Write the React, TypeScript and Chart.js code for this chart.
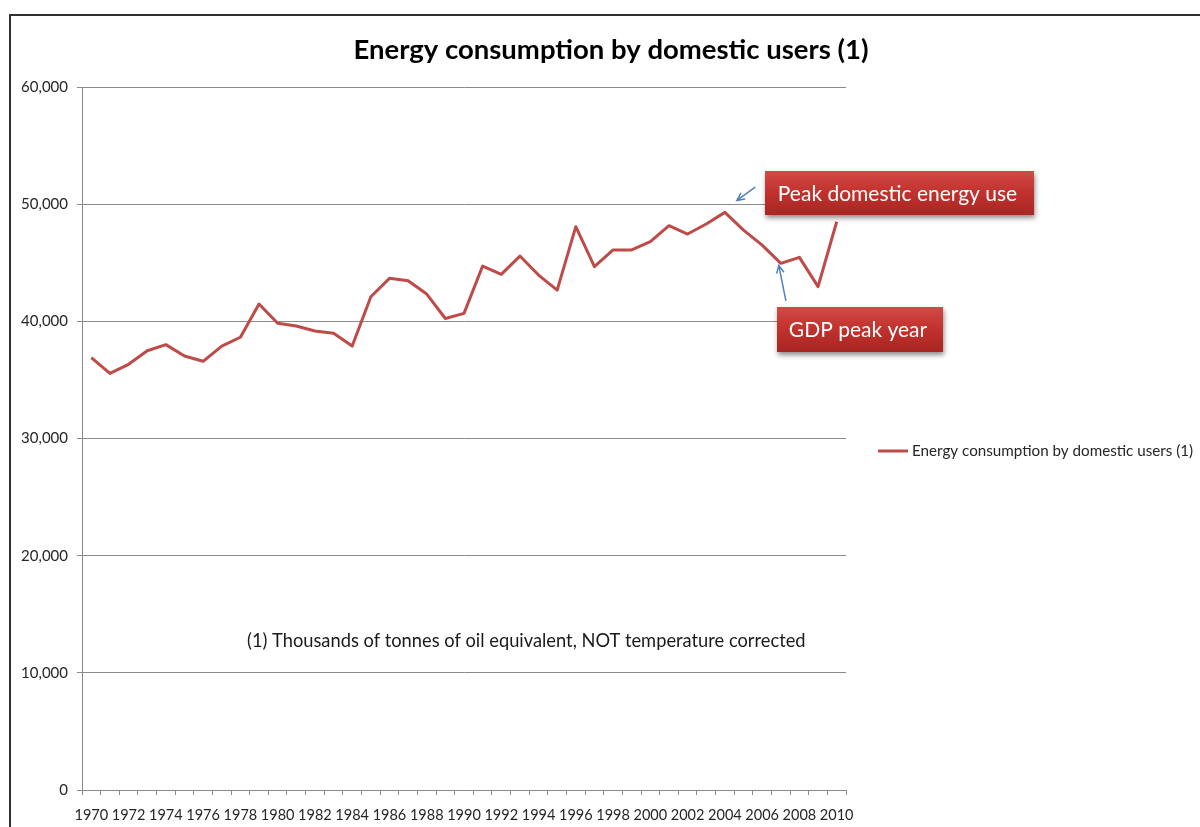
import React, { useEffect, useRef } from "react";
import { Chart, registerables } from "chart.js";

Chart.register(...registerables);

// Years on the category axis
const years: string[] = [
  "1970", "1971", "1972", "1973", "1974", "1975", "1976", "1977", "1978", "1979",
  "1980", "1981", "1982", "1983", "1984", "1985", "1986", "1987", "1988", "1989",
  "1990", "1991", "1992", "1993", "1994", "1995", "1996", "1997", "1998", "1999",
  "2000", "2001", "2002", "2003", "2004", "2005", "2006", "2007", "2008", "2009",
  "2010",
];

// Thousands of tonnes of oil equivalent
const domesticUse: number[] = [
  36900, 35560, 36330, 37490, 38010, 37040, 36590, 37890, 38640, 41480,
  39830, 39600, 39170, 38980, 37890, 42100, 43670, 43470, 42330, 40240,
  40680, 44720, 44010, 45570, 43950, 42670, 48080, 44660, 46090, 46090,
  46800, 48160, 47450, 48310, 49300, 47790, 46510, 44950, 45460, 42960,
  48500,
];

const seriesName = "Energy consumption by domestic users (1)";
const chartTitle = "Energy consumption by domestic users (1)";
const footnote = "(1) Thousands of tonnes of oil equivalent, NOT temperature corrected";
const callouts: string[] = ["Peak domestic energy use", "GDP peak year"];

const yTicks = { min: 0, max: 60000, step: 10000 };

const FONT = "Lato, 'Open Sans', sans-serif";
const LINE_RED = "#be4b48";
const GRID = "#8a8a8a";
const ARROW_BLUE = "#4f81bd";

function drawArrow(ctx: CanvasRenderingContext2D, x0: number, y0: number, x1: number, y1: number) {
  const ang = Math.atan2(y1 - y0, x1 - x0);
  const head = 8;
  ctx.save();
  ctx.strokeStyle = ARROW_BLUE;
  ctx.lineWidth = 1.5;
  ctx.lineCap = "round";
  ctx.beginPath();
  ctx.moveTo(x0, y0);
  ctx.lineTo(x1, y1);
  ctx.moveTo(x1 - head * Math.cos(ang - 0.45), y1 - head * Math.sin(ang - 0.45));
  ctx.lineTo(x1, y1);
  ctx.lineTo(x1 - head * Math.cos(ang + 0.45), y1 - head * Math.sin(ang + 0.45));
  ctx.stroke();
  ctx.restore();
}

function drawCallout(ctx: CanvasRenderingContext2D, x: number, y: number, w: number, h: number, text: string) {
  ctx.save();
  ctx.shadowColor = "rgba(0,0,0,0.45)";
  ctx.shadowBlur = 5;
  ctx.shadowOffsetY = 3;
  ctx.shadowOffsetX = 1;
  const g = ctx.createLinearGradient(0, y, 0, y + h);
  g.addColorStop(0, "#d24a46");
  g.addColorStop(0.5, "#c0312d");
  g.addColorStop(1, "#a82623");
  ctx.fillStyle = g;
  ctx.fillRect(x, y, w, h);
  ctx.restore();
  ctx.save();
  ctx.fillStyle = "#ffffff";
  ctx.font = `21px ${FONT}`;
  ctx.textAlign = "center";
  ctx.textBaseline = "middle";
  ctx.fillText(text, x + w / 2 - 2, y + h / 2 + 1);
  ctx.restore();
}

const decorations = {
  id: "decorations",
  beforeDraw(chart: Chart) {
    const ctx = chart.ctx;
    ctx.save();
    ctx.fillStyle = "#ffffff";
    ctx.fillRect(0, 0, chart.width, chart.height);
    // outer frame
    ctx.strokeStyle = "#303030";
    ctx.lineWidth = 2;
    ctx.beginPath();
    ctx.moveTo(10, chart.height + 2);
    ctx.lineTo(10, 15);
    ctx.lineTo(chart.width + 2, 15);
    ctx.stroke();
    // title
    ctx.fillStyle = "#000000";
    ctx.font = `bold 27.5px ${FONT}`;
    ctx.textAlign = "center";
    ctx.textBaseline = "middle";
    ctx.fillText(chartTitle, 611, 50);
    // footnote
    ctx.font = `18.3px ${FONT}`;
    ctx.textAlign = "left";
    ctx.fillStyle = "#1a1a1a";
    ctx.fillText(footnote, 247, 641);
    // legend
    ctx.strokeStyle = LINE_RED;
    ctx.lineWidth = 3;
    ctx.beginPath();
    ctx.moveTo(878, 451);
    ctx.lineTo(908, 451);
    ctx.stroke();
    ctx.fillStyle = "#262626";
    ctx.font = `15.2px ${FONT}`;
    ctx.fillText(seriesName, 912, 451);
    ctx.restore();
  },
  afterDraw(chart: Chart) {
    const ctx = chart.ctx;
    const xs = chart.scales.x;
    const ys = chart.scales.y;
    const px = (i: number) => xs.getPixelForValue(i);
    const py = (i: number) => ys.getPixelForValue(domesticUse[i]);
    const peak = years.indexOf("2004");
    const gdp = years.indexOf("2007");
    drawArrow(ctx, px(peak) + 30, py(peak) - 25, px(peak) + 12, py(peak) - 12);
    drawArrow(ctx, px(gdp) + 5, py(gdp) + 37, px(gdp) - 2, py(gdp) + 2);
    drawCallout(ctx, 765, 171, 269, 44, callouts[0]);
    drawCallout(ctx, 777, 307, 166, 45, callouts[1]);
  },
};

export default function App() {
  const ref = useRef<HTMLCanvasElement | null>(null);

  useEffect(() => {
    if (!ref.current) return;
    const chart = new Chart(ref.current, {
      type: "line",
      data: {
        labels: years,
        datasets: [
          {
            label: seriesName,
            data: domesticUse,
            borderColor: LINE_RED,
            backgroundColor: LINE_RED,
            borderWidth: 3,
            pointRadius: 0,
            tension: 0,
            borderJoinStyle: "round",
          },
        ],
      },
      options: {
        responsive: false,
        animation: false,
        devicePixelRatio: 1,
        layout: { padding: { left: 0, top: 87, right: 354, bottom: 0 } },
        plugins: {
          legend: { display: false },
          title: { display: false },
          tooltip: { enabled: false },
        },
        scales: {
          x: {
            type: "category",
            offset: true,
            grid: {
              offset: true,
              drawOnChartArea: false,
              drawTicks: true,
              tickLength: 5,
              color: GRID,
            },
            border: { color: GRID, width: 1 },
            ticks: {
              autoSkip: false,
              maxRotation: 0,
              minRotation: 0,
              padding: 12,
              color: "#262626",
              font: { family: FONT, size: 14.5 },
              callback: (_v: any, i: number) => (i % 2 === 0 ? years[i] : ""),
            },
            afterFit: (s: any) => {
              s.height = 37;
            },
          },
          y: {
            min: yTicks.min,
            max: yTicks.max,
            grid: { color: GRID, tickLength: 5, lineWidth: 1 },
            border: { color: GRID, width: 1 },
            ticks: {
              stepSize: yTicks.step,
              padding: 9,
              color: "#262626",
              font: { family: FONT, size: 15 },
              callback: (v: any) => Number(v).toLocaleString("en-US"),
            },
            afterFit: (s: any) => {
              s.width = 82;
            },
          },
        },
      },
      plugins: [decorations],
    });
    return () => chart.destroy();
  }, []);

  return (
    <div style={{ position: "absolute", left: 0, top: 0, width: 1200, height: 827, overflow: "hidden" }}>
      <canvas ref={ref} width={1200} height={827} style={{ width: 1200, height: 827, display: "block" }} />
    </div>
  );
}
